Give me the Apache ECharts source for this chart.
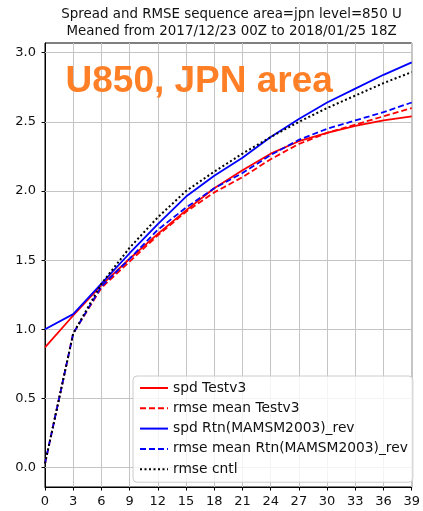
<!DOCTYPE html>
<html>
<head>
<meta charset="utf-8">
<script src="https://cdn.jsdelivr.net/npm/echarts@6/dist/echarts.min.js"></script>
<style>
  html, body { margin: 0; padding: 0; background: #fff; }
  #chart { width: 423px; height: 511px; }
</style>
</head>
<body>
<div id="chart"></div>
<script>
// Forecast hour (every 3 h)
const hours = [0, 3, 6, 9, 12, 15, 18, 21, 24, 27, 30, 33, 36, 39];

// U850 spread / RMSE over the JPN area
const spdTestv3  = [0.87, 1.10, 1.32, 1.51, 1.69, 1.86, 2.02, 2.15, 2.27, 2.36, 2.42, 2.47, 2.51, 2.54];
const rmseTestv3 = [0.03, 0.97, 1.30, 1.49, 1.68, 1.85, 1.99, 2.10, 2.23, 2.34, 2.42, 2.48, 2.54, 2.60];
const spdRtn     = [1.00, 1.11, 1.33, 1.55, 1.76, 1.96, 2.11, 2.24, 2.39, 2.52, 2.64, 2.74, 2.84, 2.93];
const rmseRtn    = [0.03, 0.97, 1.31, 1.51, 1.72, 1.88, 2.02, 2.13, 2.26, 2.37, 2.45, 2.51, 2.57, 2.64];
const rmseCntl   = [0.03, 0.97, 1.33, 1.59, 1.81, 2.00, 2.14, 2.27, 2.39, 2.50, 2.60, 2.69, 2.78, 2.86];

// Axis ticks
const yTicks = [0.0, 0.5, 1.0, 1.5, 2.0, 2.5, 3.0];
const xTickStep = 3;

const FONT = 'DejaVu Sans';
const gridColor = '#c4c4c4';

function pairs(vals) { return hours.map((h, i) => [h, vals[i]]); }

function lineSeries(name, vals, color, type, width) {
  return {
    name: name,
    type: 'line',
    data: pairs(vals),
    symbol: 'none',
    showSymbol: false,
    z: 3,
    lineStyle: { color: color, width: width, type: type },
    itemStyle: { color: color },
    animation: false
  };
}

const chart = echarts.init(document.getElementById('chart'), null, { renderer: 'canvas' });

chart.setOption({
  animation: false,
  backgroundColor: '#ffffff',
  graphic: [
    {
      type: 'text', x: 231.5, y: 6.5, z: 10,
      style: {
        text: 'Spread and RMSE sequence area=jpn level=850 U\nMeaned from 2017/12/23 00Z to 2018/01/25 18Z',
        align: 'center', verticalAlign: 'top',
        font: '13.4px "DejaVu Sans"', lineHeight: 16.5, fill: '#111'
      }
    },
    {
      type: 'text', x: 65.5, y: 81.5, z: 10,
      style: {
        text: 'U850, JPN area',
        align: 'left', verticalAlign: 'middle',
        font: 'bold 37px "Liberation Sans"', fill: '#FF7F27'
      }
    }
  ],
  grid: {
    left: 45, right: 5, top: 43, bottom: 24,
    show: true, borderColor: '#000', borderWidth: 1, backgroundColor: 'transparent'
  },
  xAxis: {
    type: 'value',
    min: 0, max: 39, interval: xTickStep,
    axisLine: { show: true, onZero: false, lineStyle: { color: '#000', width: 1 } },
    axisTick: { show: true, inside: false, length: 3.5, lineStyle: { color: '#000', width: 1 } },
    axisLabel: { color: '#111', fontFamily: FONT, fontSize: 13, margin: 8 },
    splitLine: { show: true, lineStyle: { color: gridColor, width: 1 } }
  },
  yAxis: {
    type: 'value',
    min: -0.14, max: 3.07,
    axisLine: { show: true, onZero: false, lineStyle: { color: '#000', width: 1 } },
    axisTick: { show: true, inside: false, length: 3.5, customValues: yTicks, lineStyle: { color: '#000', width: 1 } },
    axisLabel: {
      color: '#111', fontFamily: FONT, fontSize: 13, margin: 9,
      customValues: yTicks,
      formatter: v => v.toFixed(1)
    },
    splitLine: { show: false }
  },
  legend: {
    show: true,
    z: 20,
    orient: 'vertical',
    left: 133, top: 376,
    padding: [5, 5, 6, 6],
    itemWidth: 28, itemHeight: 14, itemGap: 6.3,
    itemStyle: { opacity: 0 },
    backgroundColor: 'rgba(255,255,255,0.82)',
    borderColor: '#cccccc', borderWidth: 1, borderRadius: 4,
    textStyle: { fontFamily: FONT, fontSize: 13.8, color: '#111' },
    data: ['spd Testv3', 'rmse mean Testv3', 'spd Rtn(MAMSM2003)_rev', 'rmse mean Rtn(MAMSM2003)_rev', 'rmse cntl']
  },
  series: [
    lineSeries('spd Testv3', spdTestv3, '#ff0000', 'solid', 1.8),
    lineSeries('rmse mean Testv3', rmseTestv3, '#ff0000', [6, 3], 1.8),
    lineSeries('spd Rtn(MAMSM2003)_rev', spdRtn, '#0000ff', 'solid', 1.8),
    lineSeries('rmse mean Rtn(MAMSM2003)_rev', rmseRtn, '#0000ff', [6, 3], 1.8),
    lineSeries('rmse cntl', rmseCntl, '#000000', [2, 2.5], 2),
    {
      // horizontal grid lines at the y ticks
      name: 'ygrid', type: 'line', data: [], z: 1, silent: true,
      markLine: {
        z: 1,
        silent: true, symbol: ['none', 'none'], animation: false,
        label: { show: false },
        lineStyle: { color: gridColor, width: 1, type: 'solid' },
        data: yTicks.map(v => ({ yAxis: v }))
      }
    }
  ]
});
</script>
</body>
</html>
